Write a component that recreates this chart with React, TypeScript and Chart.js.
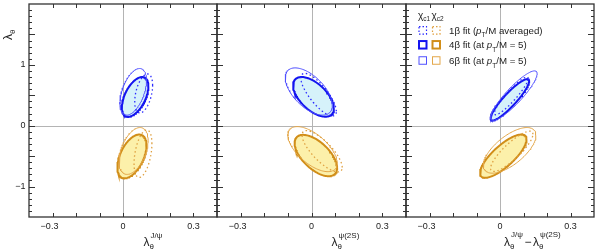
import React, { useEffect, useRef } from "react";
import { Chart, registerables } from "chart.js";
Chart.register(...registerables);

// ---- axes ----
const xRange = [-0.4, 0.4];
const yRange = [-1.5, 2.0];
const xTickLabels = [-0.3, 0, 0.3];
const yTickLabels = [-1, 0, 1];

// ---- ellipse contours per panel: [centreX, centreY, halfWidthX, halfHeightY, correlation]
// panels: λθ(J/ψ), λθ(ψ(2S)), λθ(J/ψ) − λθ(ψ(2S))
const chic1_1beta = [
  [0.088, 0.53, 0.038, 0.32, 0.42],
  [0.03, 0.51, 0.075, 0.35, -0.78],
  [0.048, 0.49, 0.072, 0.31, 0.92],
];
const chic2_1beta = [
  [0.085, -0.46, 0.038, 0.39, 0.42],
  [0.045, -0.42, 0.085, 0.34, -0.78],
  [0.05, -0.42, 0.09, 0.33, 0.85],
];
const chic1_4beta = [
  [0.0515, 0.473, 0.0565, 0.327, 0.53],
  [0.0085, 0.474, 0.0865, 0.326, -0.58],
  [0.042, 0.426, 0.082, 0.34, 0.9],
];
const chic2_4beta = [
  [0.038, -0.505, 0.062, 0.36, 0.5],
  [0.0185, -0.49, 0.09, 0.34, -0.6],
  [0.014, -0.5, 0.099, 0.355, 0.78],
];
const chic1_6beta = [
  [0.0435, 0.557, 0.0565, 0.383, 0.49],
  [-0.0115, 0.5625, 0.0995, 0.3875, -0.58],
  [0.059, 0.494, 0.099, 0.407, 0.89],
];
const chic2_6beta = [
  [0.045, -0.415, 0.062, 0.385, 0.45],
  [0.0045, -0.385, 0.1045, 0.37, -0.62],
  [0.041, -0.405, 0.112, 0.375, 0.66],
];

const legendRows = [
  { pre: "1\u03b2 fit (", post: "/M averaged)" },
  { pre: "4\u03b2 fit (at ", post: "/M = 5)" },
  { pre: "6\u03b2 fit (at ", post: "/M = 5)" },
];

// ---- styling ----
const W = 598;
const H = 250;
const panelLeft = [29, 217, 406];
const panelRight = [217, 406, 594];
const plotTop = 4;
const plotBottom = 217;
const FONT = "'Liberation Sans', Arial, Helvetica, sans-serif";

const C = {
  blueThick: "#1414f0",
  blueThin: "#5050ff",
  blueDot: "#2a2aff",
  blueFill: "#d6f2fa",
  orThick: "#d18e19",
  orThin: "#e3a74a",
  orDot: "#dfa040",
  yelFill: "#fcf0aa",
  frame: "#333333",
  zero: "#b4b4b4",
  text: "#222222",
};

function ellipse(p: number[]) {
  const [cx, cy, sx, sy, rho] = p;
  const k = Math.sqrt(1 - rho * rho);
  const pts: { x: number; y: number }[] = [];
  const n = 120;
  for (let i = 0; i <= n; i++) {
    const t = (i / n) * 2 * Math.PI;
    pts.push({
      x: cx + sx * Math.cos(t),
      y: cy + sy * (rho * Math.cos(t) + k * Math.sin(t)),
    });
  }
  return pts;
}

function fmt(v: number) {
  if (v === 0) return "0";
  const s = String(Math.abs(v));
  return v < 0 ? "\u2212" + s : s;
}

type Part = { t: string; size: number; italic?: boolean; dx?: number; dy?: number; noAdvance?: boolean };
function drawParts(ctx: CanvasRenderingContext2D, x: number, y: number, parts: Part[]) {
  let cx = x;
  for (const p of parts) {
    ctx.font = `${p.italic ? "italic " : ""}${p.size}px ${FONT}`;
    const px = cx + (p.dx || 0);
    ctx.fillText(p.t, px, y + (p.dy || 0));
    if (!p.noAdvance) cx = px + ctx.measureText(p.t).width;
  }
  return cx;
}

function makePlugin(idx: number) {
  return {
    id: "frame" + idx,
    beforeDatasetsDraw(chart: any) {
      const { ctx, chartArea: a, scales } = chart;
      ctx.save();
      ctx.strokeStyle = C.zero;
      ctx.lineWidth = 1;
      const x0 = Math.round(scales.x.getPixelForValue(0)) + 0.5;
      const y0 = Math.round(scales.y.getPixelForValue(0)) + 0.5;
      ctx.beginPath();
      ctx.moveTo(x0, a.top);
      ctx.lineTo(x0, a.bottom);
      ctx.moveTo(a.left, y0);
      ctx.lineTo(a.right, y0);
      ctx.stroke();
      ctx.restore();
    },
    afterDatasetsDraw(chart: any) {
      const { ctx, chartArea: a, scales } = chart;
      ctx.save();
      // ticks
      ctx.strokeStyle = C.frame;
      ctx.lineWidth = 1;
      ctx.beginPath();
      for (let k = -3; k <= 3; k++) {
        const px = Math.round(scales.x.getPixelForValue(k / 10)) + 0.5;
        const len = 4;
        ctx.moveTo(px, a.bottom);
        ctx.lineTo(px, a.bottom - len);
        ctx.moveTo(px, a.top);
        ctx.lineTo(px, a.top + len);
      }
      for (let k = -14; k <= 19; k++) {
        const py = Math.round(scales.y.getPixelForValue(k / 10)) + 0.5;
        const len = k % 5 === 0 ? 6 : 3;
        ctx.moveTo(a.left, py);
        ctx.lineTo(a.left + len, py);
        ctx.moveTo(a.right, py);
        ctx.lineTo(a.right - len, py);
      }
      ctx.stroke();
      // frame
      ctx.lineWidth = 1.3;
      ctx.strokeRect(a.left, a.top, a.right - a.left, a.bottom - a.top);

      // tick labels
      ctx.fillStyle = C.text;
      ctx.font = `9px ${FONT}`;
      ctx.textAlign = "center";
      ctx.textBaseline = "middle";
      for (const v of xTickLabels) {
        const shift = v < 0 ? -3 : 0;
        ctx.fillText(fmt(v), scales.x.getPixelForValue(v) + shift, 226.5);
      }
      if (idx === 0) {
        ctx.textAlign = "right";
        for (const v of yTickLabels) {
          ctx.fillText(fmt(v), 25.5, scales.y.getPixelForValue(v));
        }
        // y title
        ctx.save();
        ctx.translate(12, 40);
        ctx.rotate(-Math.PI / 2);
        ctx.textAlign = "left";
        ctx.textBaseline = "alphabetic";
        drawParts(ctx, 0, 0, [
          { t: "\u03bb", size: 12 },
          { t: "\u03b8", size: 8, dy: 3 },
        ]);
        ctx.restore();
      }

      // x titles
      ctx.textAlign = "left";
      ctx.textBaseline = "alphabetic";
      const lam = "\u03bb";
      const th = "\u03b8";
      if (idx === 0) {
        drawParts(ctx, 143.5, 246, [
          { t: lam, size: 12 },
          { t: th, size: 8, dy: 3, noAdvance: true },
          { t: "J/\u03c8", size: 8, dx: 1, dy: -8.5 },
        ]);
      } else if (idx === 1) {
        drawParts(ctx, 331.5, 246, [
          { t: lam, size: 12 },
          { t: th, size: 8, dy: 3, noAdvance: true },
          { t: "\u03c8(2S)", size: 8, dx: 1, dy: -8.5 },
        ]);
      } else {
        drawParts(ctx, 504, 245.5, [
          { t: lam, size: 12 },
          { t: th, size: 8, dy: 3, noAdvance: true },
          { t: "J/\u03c8", size: 8, dx: 1, dy: -8.5 },
          { t: "\u2212", size: 12, dx: 1.5 },
          { t: lam, size: 12, dx: 1.5 },
          { t: th, size: 8, dy: 3, noAdvance: true },
          { t: "\u03c8(2S)", size: 8, dx: 1, dy: -8.5 },
        ]);

        // legend
        drawParts(ctx, 418, 19, [
          { t: "\u03c7", size: 10 },
          { t: "c1", size: 6.5, dy: 2 },
        ]);
        drawParts(ctx, 431.5, 19, [
          { t: "\u03c7", size: 10 },
          { t: "c2", size: 6.5, dy: 2 },
        ]);
        const rowsY = [30.3, 44.8, 60.5];
        const sq = 7.5;
        const styles = [
          { w: 1.2, dash: [1.5, 2], c1: C.blueDot, c2: C.orDot },
          { w: 2, dash: [], c1: C.blueThick, c2: C.orThick },
          { w: 1, dash: [], c1: C.blueThin, c2: C.orThin },
        ];
        legendRows.forEach((r, i) => {
          const cy = rowsY[i];
          const s = styles[i];
          ctx.lineWidth = s.w;
          ctx.setLineDash(s.dash);
          ctx.strokeStyle = s.c1;
          ctx.strokeRect(419, cy - sq / 2, sq, sq);
          ctx.strokeStyle = s.c2;
          ctx.strokeRect(432.5, cy - sq / 2, sq, sq);
          ctx.setLineDash([]);
          ctx.fillStyle = C.text;
          drawParts(ctx, 449, cy + 3.5, [
            { t: r.pre, size: 9.7 },
            { t: "p", size: 9.7, italic: true },
            { t: "T", size: 6.5, dy: 3.5 },
            { t: r.post, size: 9.7 },
          ]);
        });
      }
      ctx.restore();
    },
  };
}

function buildConfig(idx: number): any {
  const ds = (
    p: number[],
    color: string,
    width: number,
    order: number,
    dash: number[] = [],
    fillColor?: string
  ) => ({
    data: ellipse(p),
    borderColor: color,
    borderWidth: width,
    borderDash: dash,
    showLine: true,
    pointRadius: 0,
    tension: 0,
    order,
    fill: fillColor ? "shape" : false,
    backgroundColor: fillColor || "transparent",
  });
  return {
    type: "scatter",
    data: {
      datasets: [
        ds(chic1_1beta[idx], C.blueDot, 1.3, 0, [1.5, 2.6]),
        ds(chic2_1beta[idx], C.orDot, 1.3, 0, [1.5, 2.6]),
        ds(chic1_6beta[idx], C.blueThin, 1, 1),
        ds(chic2_6beta[idx], C.orThin, 1, 1),
        ds(chic1_4beta[idx], C.blueThick, 2, 5, [], C.blueFill),
        ds(chic2_4beta[idx], C.orThick, 2, 5, [], C.yelFill),
      ],
    },
    options: {
      animation: false,
      responsive: false,
      devicePixelRatio: 1,
      layout: {
        padding: {
          left: panelLeft[idx],
          right: W - panelRight[idx],
          top: plotTop,
          bottom: H - plotBottom,
        },
      },
      scales: {
        x: { type: "linear", min: xRange[0], max: xRange[1], display: false },
        y: { type: "linear", min: yRange[0], max: yRange[1], display: false },
      },
      plugins: { legend: { display: false }, tooltip: { enabled: false } },
    },
    plugins: [makePlugin(idx)],
  };
}

export default function App() {
  const r0 = useRef<HTMLCanvasElement>(null);
  const r1 = useRef<HTMLCanvasElement>(null);
  const r2 = useRef<HTMLCanvasElement>(null);
  useEffect(() => {
    document.body.style.margin = "0";
    const refs = [r0, r1, r2];
    const charts = refs.map((r, i) => new Chart(r.current as HTMLCanvasElement, buildConfig(i)));
    return () => charts.forEach((c) => c.destroy());
  }, []);
  const st: React.CSSProperties = { position: "absolute", left: 0, top: 0 };
  return (
    <div style={{ position: "relative", width: W, height: H, background: "#fff" }}>
      <canvas ref={r0} width={W} height={H} style={st} />
      <canvas ref={r1} width={W} height={H} style={st} />
      <canvas ref={r2} width={W} height={H} style={st} />
    </div>
  );
}
